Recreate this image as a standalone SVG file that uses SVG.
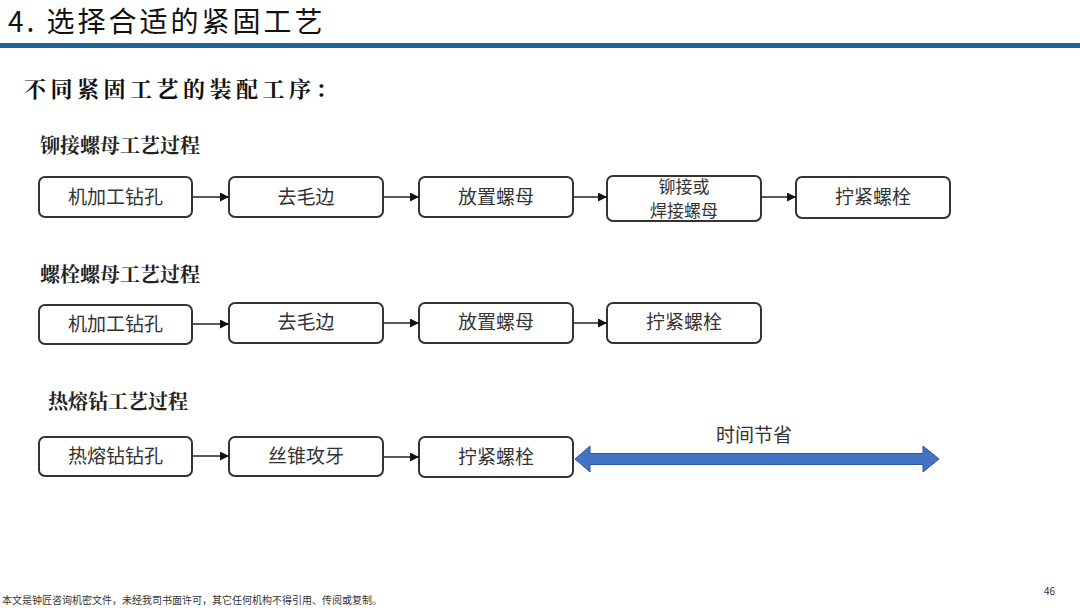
<svg xmlns="http://www.w3.org/2000/svg" width="1080" height="608" viewBox="0 0 1080 608">
<defs>
<marker id="ah" viewBox="0 0 10 10" refX="10" refY="5" markerWidth="9" markerHeight="9" markerUnits="userSpaceOnUse" orient="auto">
<path d="M0,0 L10,5 L0,10 z" fill="#111"/>
</marker>
<style>
.title{font-family:"Noto Sans CJK SC","Noto Sans",sans-serif;font-size:28px;fill:#111;letter-spacing:3px}
.sub{font-family:"Noto Serif CJK SC","Noto Sans CJK SC",serif;font-size:22px;font-weight:bold;fill:#111;letter-spacing:4.5px}
.sec{font-family:"Noto Serif CJK SC","Noto Sans CJK SC",serif;font-size:20px;font-weight:bold;fill:#222}
.box{fill:#fff;stroke:#333;stroke-width:2}
.lbl{font-family:"Noto Sans CJK SC",sans-serif;font-size:19px;fill:#333;text-anchor:middle}
.lbl2{font-family:"Noto Sans CJK SC",sans-serif;font-size:17px;fill:#333;text-anchor:middle}
.con{stroke:#222;stroke-width:1.3;fill:none}
.foot{font-family:"Noto Sans CJK SC",sans-serif;font-size:10px;fill:#333}
</style>
</defs>
<rect width="1080" height="608" fill="#fff"/>
<text class="title" x="8" y="32">4. 选择合适的紧固工艺</text>
<rect x="0" y="43" width="1080" height="5" fill="#1c6598"/>
<text class="sub" x="24" y="97">不同紧固工艺的装配工序：</text>
<text class="sec" x="40" y="153">铆接螺母工艺过程</text>
<text class="sec" x="40" y="282">螺栓螺母工艺过程</text>
<text class="sec" x="48" y="409">热熔钻工艺过程</text>

<g id="r1n1"><rect class="box" x="39" y="177" width="153" height="40" rx="6"/><text class="lbl" x="115.5" y="204">机加工钻孔</text></g>
<g id="r1n2"><rect class="box" x="229" y="177" width="154" height="40" rx="6"/><text class="lbl" x="306" y="204">去毛边</text></g>
<g id="r1n3"><rect class="box" x="419" y="177" width="154" height="40" rx="6"/><text class="lbl" x="496" y="204">放置螺母</text></g>
<g id="r1n4"><rect class="box" x="607" y="176" width="154" height="45" rx="6"/><text class="lbl2" x="684" y="193">铆接或</text><text class="lbl2" x="684" y="217">焊接螺母</text></g>
<g id="r1n5"><rect class="box" x="796" y="177" width="154" height="41" rx="6"/><text class="lbl" x="873" y="204">拧紧螺栓</text></g>

<g id="r2n1"><rect class="box" x="39" y="305" width="153" height="39" rx="6"/><text class="lbl" x="115.5" y="331">机加工钻孔</text></g>
<g id="r2n2"><rect class="box" x="229" y="303" width="154" height="40" rx="6"/><text class="lbl" x="306" y="329">去毛边</text></g>
<g id="r2n3"><rect class="box" x="419" y="303" width="154" height="40" rx="6"/><text class="lbl" x="496" y="329">放置螺母</text></g>
<g id="r2n4"><rect class="box" x="607" y="303" width="154" height="40" rx="6"/><text class="lbl" x="684" y="329">拧紧螺栓</text></g>

<g id="r3n1"><rect class="box" x="39" y="437" width="153" height="39" rx="6"/><text class="lbl" x="115.5" y="463">热熔钻钻孔</text></g>
<g id="r3n2"><rect class="box" x="229" y="437" width="154" height="39" rx="6"/><text class="lbl" x="306" y="463">丝锥攻牙</text></g>
<g id="r3n3"><rect class="box" x="419" y="437" width="154" height="40" rx="6"/><text class="lbl" x="496" y="464">拧紧螺栓</text></g>

<g id="connectors">
<line class="con" x1="193" y1="197" x2="229" y2="197" marker-end="url(#ah)"/>
<line class="con" x1="384" y1="197" x2="419" y2="197" marker-end="url(#ah)"/>
<line class="con" x1="574" y1="197" x2="607" y2="197" marker-end="url(#ah)"/>
<line class="con" x1="762" y1="197" x2="796" y2="197" marker-end="url(#ah)"/>
<line class="con" x1="193" y1="324" x2="229" y2="324" marker-end="url(#ah)"/>
<line class="con" x1="384" y1="323" x2="419" y2="323" marker-end="url(#ah)"/>
<line class="con" x1="574" y1="323" x2="607" y2="323" marker-end="url(#ah)"/>
<line class="con" x1="193" y1="456" x2="229" y2="456" marker-end="url(#ah)"/>
<line class="con" x1="384" y1="457" x2="419" y2="457" marker-end="url(#ah)"/>
</g>

<g id="time-saving">
<path d="M575,459 L590,446 L590,453.5 L923,453.5 L923,446 L939,459 L923,472 L923,464.5 L590,464.5 L590,472 Z" fill="#4472c4" stroke="#2f5597" stroke-width="1"/>
<text class="lbl" x="754" y="442">时间节省</text>
</g>

<text class="foot" x="2" y="604">本文是钟匠咨询机密文件，未经我司书面许可，其它任何机构不得引用、传阅或复制。</text>
<text class="foot" x="1044" y="595">46</text>
</svg>
